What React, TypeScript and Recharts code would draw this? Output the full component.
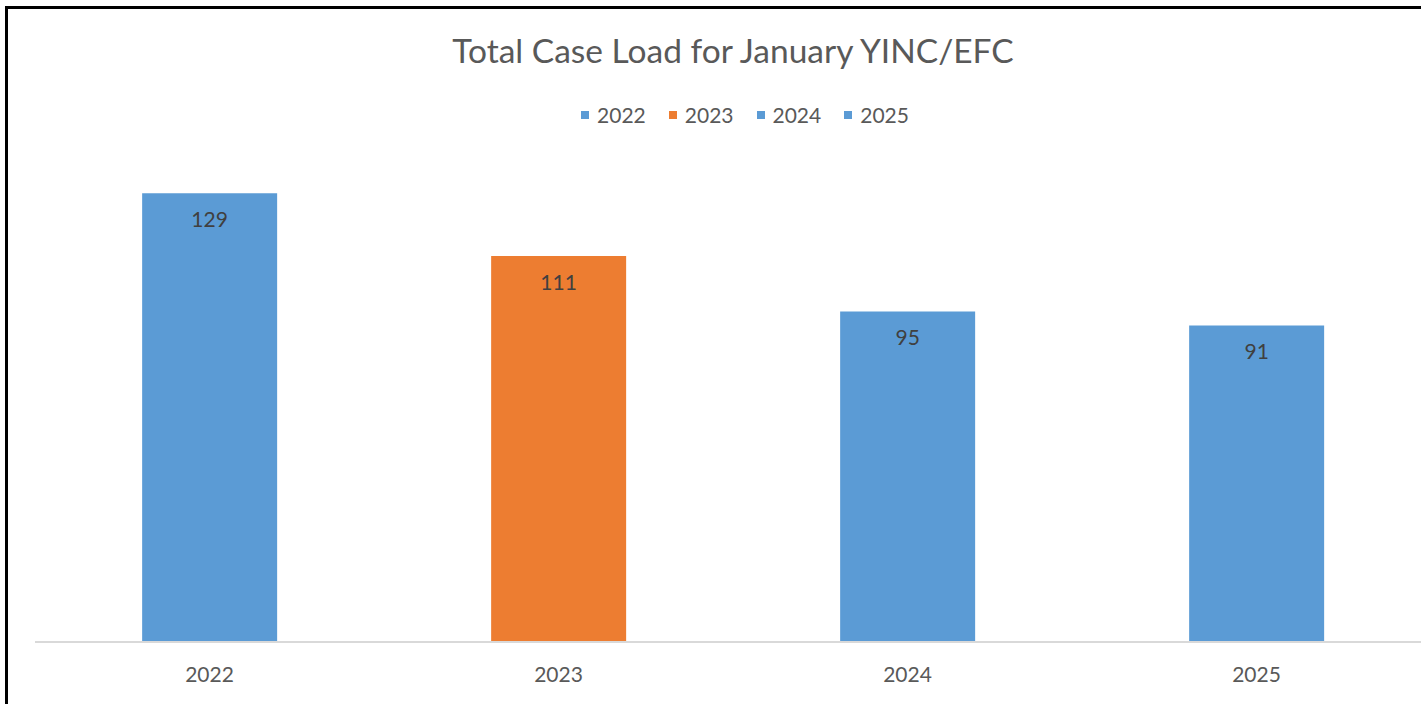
import React from 'react';
import { BarChart, Bar, XAxis, YAxis, Cell, LabelList } from 'recharts';

const years = ['2022', '2023', '2024', '2025'];
const caseLoad = [129, 111, 95, 91];
const barColors = ['#5B9BD5', '#ED7D31', '#5B9BD5', '#5B9BD5'];

const data = years.map((year, i) => ({ year, value: caseLoad[i], color: barColors[i] }));

const FONT = 'Lato, "Open Sans", sans-serif';

const App: React.FC = () => {
  return (
    <div
      style={{
        position: 'fixed',
        left: 0,
        top: 0,
        width: 1421,
        height: 704,
        overflow: 'hidden',
        background: '#fff',
        fontFamily: FONT,
      }}
    >
      {/* frame */}
      <div
        style={{
          position: 'absolute',
          left: 5,
          top: 6,
          width: 1500,
          height: 800,
          borderLeft: '3px solid #000',
          borderTop: '3px solid #000',
        }}
      />

      <div
        style={{
          position: 'absolute',
          top: 30,
          left: 0,
          width: 1466,
          textAlign: 'center',
          fontSize: 33.5,
          color: '#595959',
        }}
      >
        Total Case Load for January YINC/EFC
      </div>

      <div
        style={{
          position: 'absolute',
          top: 102,
          left: 12,
          width: 1466,
          display: 'flex',
          justifyContent: 'center',
          fontSize: 21,
          color: '#595959',
        }}
      >
        {data.map((d) => (
          <div key={d.year} style={{ display: 'flex', alignItems: 'center', margin: '0 11.5px' }}>
            <span style={{ width: 8, height: 8, background: d.color, marginRight: 8, display: 'inline-block' }} />
            <span>{d.year}</span>
          </div>
        ))}
      </div>

      <div style={{ position: 'absolute', left: 0, top: 0 }}>
        <BarChart
          width={1431}
          height={704}
          data={data}
          margin={{ top: 155, right: 0, bottom: 0, left: 35 }}
          barCategoryGap="30.7%"
        >
          <XAxis
            dataKey="year"
            height={62}
            axisLine={{ stroke: '#D9D9D9', strokeWidth: 2 }}
            tickLine={false}
            tickSize={0}
            tickMargin={25}
            tick={{ fill: '#595959', fontSize: 21, fontFamily: FONT }}
          />
          <YAxis hide domain={[0, 140]} />
          <Bar dataKey="value" isAnimationActive={false}>
            {data.map((d) => (
              <Cell key={d.year} fill={d.color} />
            ))}
            <LabelList
              dataKey="value"
              position="insideTop"
              offset={19}
              fill="#404040"
              fontSize={21}
              fontFamily={FONT}
            />
          </Bar>
        </BarChart>
      </div>
    </div>
  );
};

export default App;
